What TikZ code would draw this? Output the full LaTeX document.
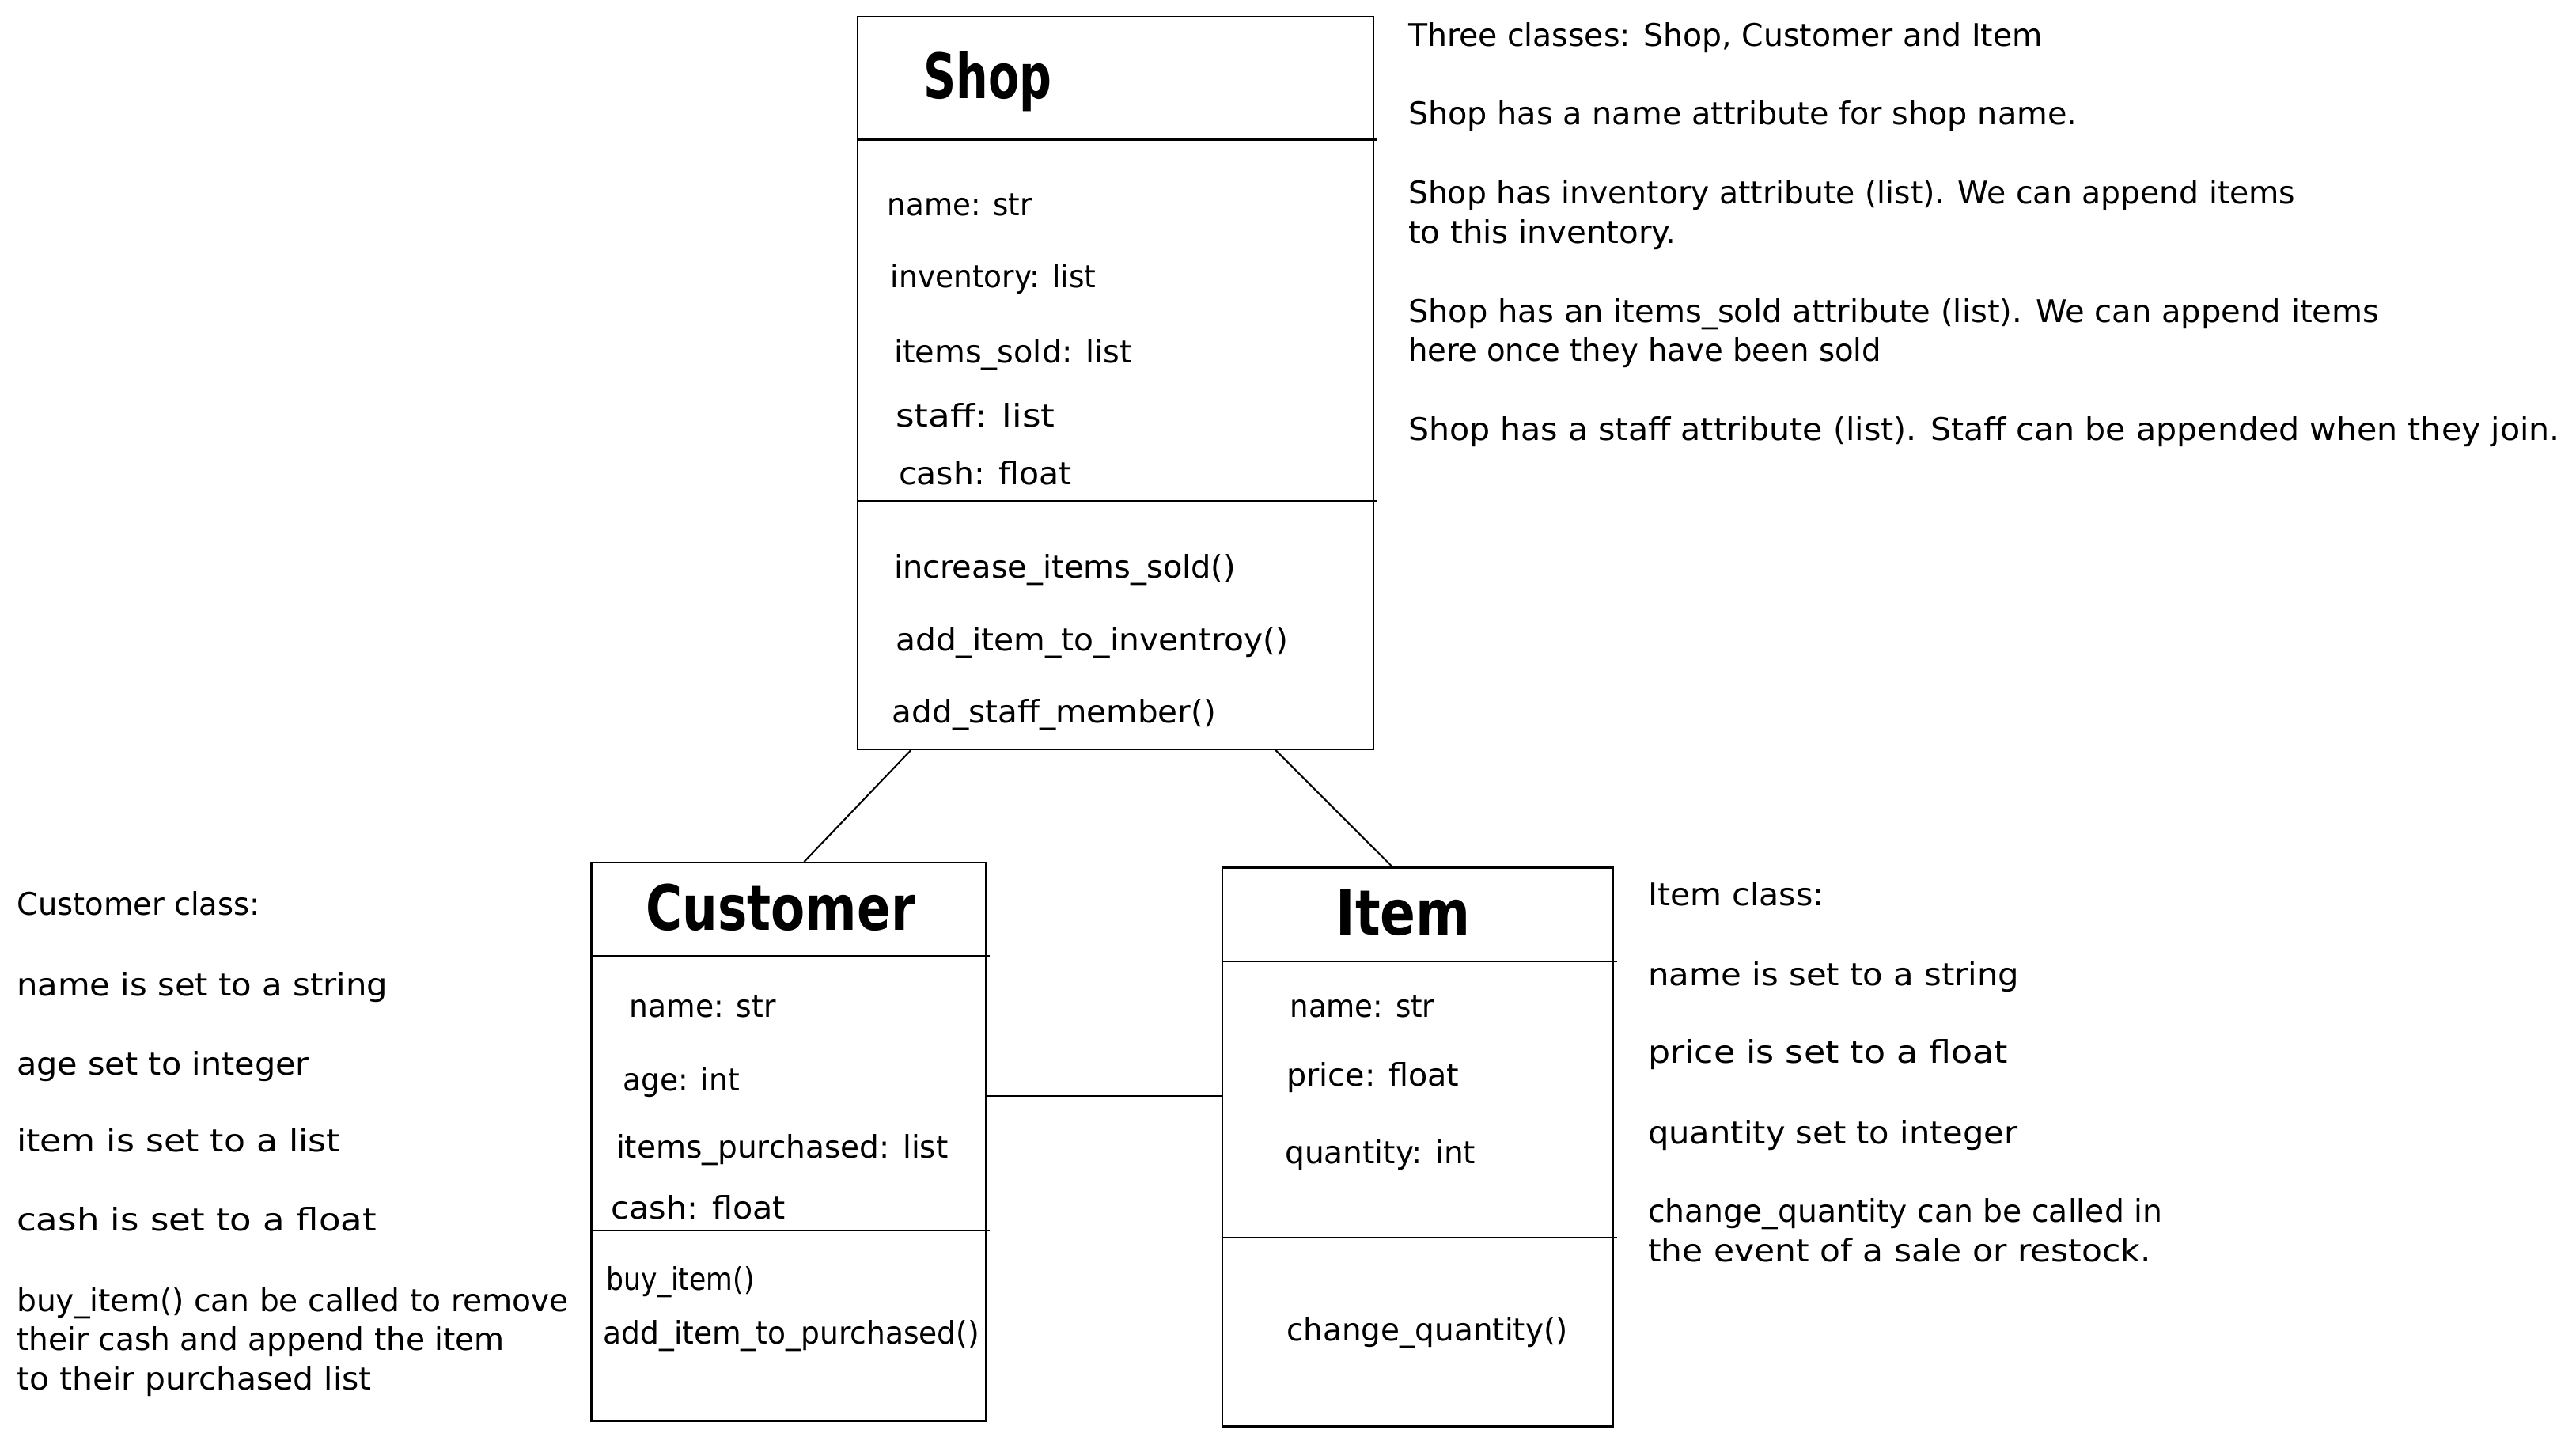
\documentclass[tikz,border=0pt]{standalone}
\usepackage{fontspec}
\usepackage{graphicx}
\setmainfont{DejaVu Sans}
\newcommand\fitw[2]{\setbox0=\hbox{#2}\pgfmathsetmacro\fxx{#1/\the\wd0}\scalebox{\fxx}[1]{\box0}}
\newcommand\txtnode[5]{\node[txt] (#1) at (#2,#3) {\fitw{#4}{#5}};}
\newcommand\ttlnode[5]{\node[ttl] (#1) at (#2,#3) {\fitw{#4}{#5}};}
\tikzset{
  txt/.style={inner sep=0pt, anchor=base west, font=\fontsize{19}{23}\selectfont},
  ttl/.style={inner sep=0pt, anchor=base west, font=\fontsize{38}{44}\selectfont\bfseries},
  classbox/.style={draw, line width=1.1pt, inner sep=0pt},
  link/.style={line width=1pt},
  divider/.style={line width=1.1pt}
}
\begin{document}
\begin{tikzpicture}[x=1pt,y=-1pt]
\useasboundingbox[fill=white] (0,0) rectangle (1568,886);

% class boxes
\node[classbox, minimum width=314pt, minimum height=446pt] (shop) at (679,233) {};
\node[classbox, minimum width=240pt, minimum height=340pt] (cust) at (480,695) {};
\node[classbox, minimum width=238pt, minimum height=340pt] (item) at (863,698) {};

% dividers
\draw[divider] (shop.west |- 0,85) -- ([xshift=2pt]shop.east |- 0,85);
\draw[divider] (shop.west |- 0,305) -- ([xshift=2pt]shop.east |- 0,305);
\draw[divider] (cust.west |- 0,582) -- ([xshift=2pt]cust.east |- 0,582);
\draw[divider] (cust.west |- 0,749) -- ([xshift=2pt]cust.east |- 0,749);
\draw[divider] (item.west |- 0,585) -- ([xshift=2pt]item.east |- 0,585);
\draw[divider] (item.west |- 0,753) -- ([xshift=2pt]item.east |- 0,753);

% connectors
\draw[link] ([xshift=33pt]shop.south west) -- ([xshift=130pt]cust.north west);
\draw[link] ([xshift=255pt]shop.south west) -- ([xshift=104pt]item.north west);
\draw[link] (cust.east |- 0,667) -- (item.west |- 0,667);

% titles
\ttlnode{tShop}{562}{60}{78}{Shop}
\ttlnode{tCust}{393}{566}{164}{Customer}
\ttlnode{tItem}{813}{569}{82}{Item}

% Shop members
\txtnode{shA1}{540}{131}{88}{name: str}
\txtnode{shA2}{542}{175}{125}{inventory: list}
\txtnode{shA3}{544}{221}{145}{items\_sold: list}
\txtnode{shA4}{545}{260}{97}{staff: list}
\txtnode{shA5}{547}{295}{105}{cash: float}
\txtnode{shM1}{544}{352}{208}{increase\_items\_sold()}
\txtnode{shM2}{545}{396}{239}{add\_item\_to\_inventroy()}
\txtnode{shM3}{543}{440}{197}{add\_staff\_member()}

% Customer members
\txtnode{cA1}{383}{619}{89}{name: str}
\txtnode{cA2}{379}{664}{71}{age: int}
\txtnode{cA3}{375}{705}{202}{items\_purchased: list}
\txtnode{cA4}{372}{742}{106}{cash: float}
\txtnode{cM1}{369}{785}{90}{buy\_item()}
\txtnode{cM2}{367}{818}{229}{add\_item\_to\_purchased()}

% Item members
\txtnode{iA1}{785}{619}{88}{name: str}
\txtnode{iA2}{783}{661}{105}{price: float}
\txtnode{iA3}{782}{708}{116}{quantity: int}
\txtnode{iM1}{783}{816}{171}{change\_quantity()}

% right notes
\txtnode{r1}{857}{28}{386}{Three classes: Shop, Customer and Item}
\txtnode{r2}{857}{76}{407}{Shop has a name attribute for shop name.}
\txtnode{r3}{857}{124}{540}{Shop has inventory attribute (list). We can append items}
\txtnode{r4}{857}{148}{163}{to this inventory.}
\txtnode{r5}{857}{196}{591}{Shop has an items\_sold attribute (list). We can append items}
\txtnode{r6}{857}{220}{288}{here once they have been sold}
\txtnode{r7}{857}{268}{701}{Shop has a staff attribute (list). Staff can be appended when they join.}

% left notes
\txtnode{l1}{10}{557}{148}{Customer class:}
\txtnode{l2}{10}{606}{226}{name is set to a string}
\txtnode{l3}{10}{654}{178}{age set to integer}
\txtnode{l4}{10}{701}{197}{item is set to a list}
\txtnode{l5}{10}{749}{219}{cash is set to a float}
\txtnode{l6}{10}{798}{336}{buy\_item() can be called to remove}
\txtnode{l7}{10}{822}{297}{their cash and append the item}
\txtnode{l8}{10}{846}{216}{to their purchased list}

% item notes
\txtnode{n1}{1003}{551}{107}{Item class:}
\txtnode{n2}{1003}{600}{226}{name is set to a string}
\txtnode{n3}{1003}{647}{219}{price is set to a float}
\txtnode{n4}{1003}{696}{225}{quantity set to integer}
\txtnode{n5}{1003}{744}{313}{change\_quantity can be called in}
\txtnode{n6}{1003}{768}{306}{the event of a sale or restock.}
\end{tikzpicture}
\end{document}
